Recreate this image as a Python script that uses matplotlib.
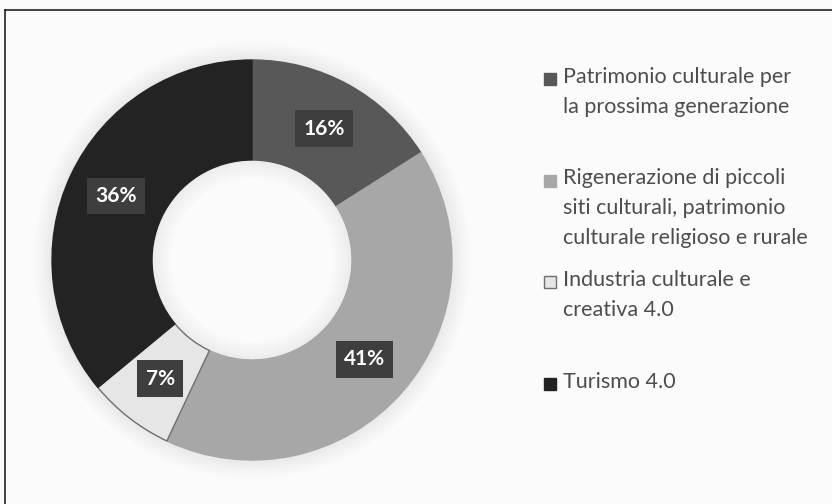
import matplotlib.pyplot as plt
from matplotlib.patches import Rectangle, Wedge

plt.rcParams['font.family'] = ['Lato', 'DejaVu Sans']

labels = ["Patrimonio culturale per\nla prossima generazione",
          "Rigenerazione di piccoli\nsiti culturali, patrimonio\nculturale religioso e rurale",
          "Industria culturale e\ncreativa 4.0",
          "Turismo 4.0"]
shares = [16, 41, 7, 36]
colors = ["#585858", "#a7a7a8", "#e6e6e6", "#232323"]
edges = ["#585858", "#a7a7a8", "#6e6e6e", "#232323"]

W, H = 832, 504
fig = plt.figure(figsize=(W / 100, H / 100), dpi=100)
fig.patch.set_facecolor("#fbfbfb")

# frame (left and top only, the rest is cropped in the original)
fig.add_artist(plt.Line2D([5 / W, 5 / W], [0, 1 - 10 / H], color="#222222", lw=1.2))
fig.add_artist(plt.Line2D([5 / W, 1], [1 - 10 / H, 1 - 10 / H], color="#222222", lw=1.2))

# donut: centre (252, 260) px, radius 200 px
cx, cy, r = 252, 260, 200
ax = fig.add_axes([(cx - r * 1.12) / W, (H - cy - r * 1.12) / H, 2.24 * r / W, 2.24 * r / H])
ax.axis("off")

# soft shadow around the ring and inside the hole
for i in range(12):
    ax.add_patch(Wedge((0, 0), 1.0 + 0.008 * (i + 1), 0, 360, width=0.008,
                       facecolor="black", edgecolor="none", alpha=0.07 * (1 - i / 12)))
    ax.add_patch(Wedge((0, 0), 0.5 - 0.008 * i, 0, 360, width=0.008,
                       facecolor="black", edgecolor="none", alpha=0.06 * (1 - i / 12)))

wedges, _, autotexts = ax.pie(shares, colors=colors, startangle=90, counterclock=False,
                              radius=1.0, autopct="%d%%", pctdistance=0.75,
                              wedgeprops=dict(width=0.5, linewidth=1))
for w, ec in zip(wedges, edges):
    w.set_edgecolor(ec)
for t in autotexts:
    t.set_color("white")
    t.set_fontsize(15)
    t.set_fontweight("bold")
    t.set_bbox(dict(boxstyle="square,pad=0.4", facecolor="#3e3e3e", edgecolor="none"))
ax.set_xlim(-1.12, 1.12)
ax.set_ylim(-1.12, 1.12)

# legend drawn by hand so the marker sits on the first line
y0, step = 79, 101.5
for i, (lab, col) in enumerate(zip(labels, colors)):
    yc = y0 + i * step
    fig.add_artist(Rectangle((544 / W, 1 - (yc + 6) / H), 12 / W, 12 / H,
                             facecolor=col, edgecolor="#6e6e6e" if i == 2 else col,
                             lw=1, transform=fig.transFigure))
    fig.text(563 / W, 1 - (yc - 12) / H, lab, ha="left", va="top", fontsize=15.5,
             color="#4d4d4d", linespacing=1.6)

fig.savefig("out.png", dpi=100, facecolor=fig.get_facecolor())
